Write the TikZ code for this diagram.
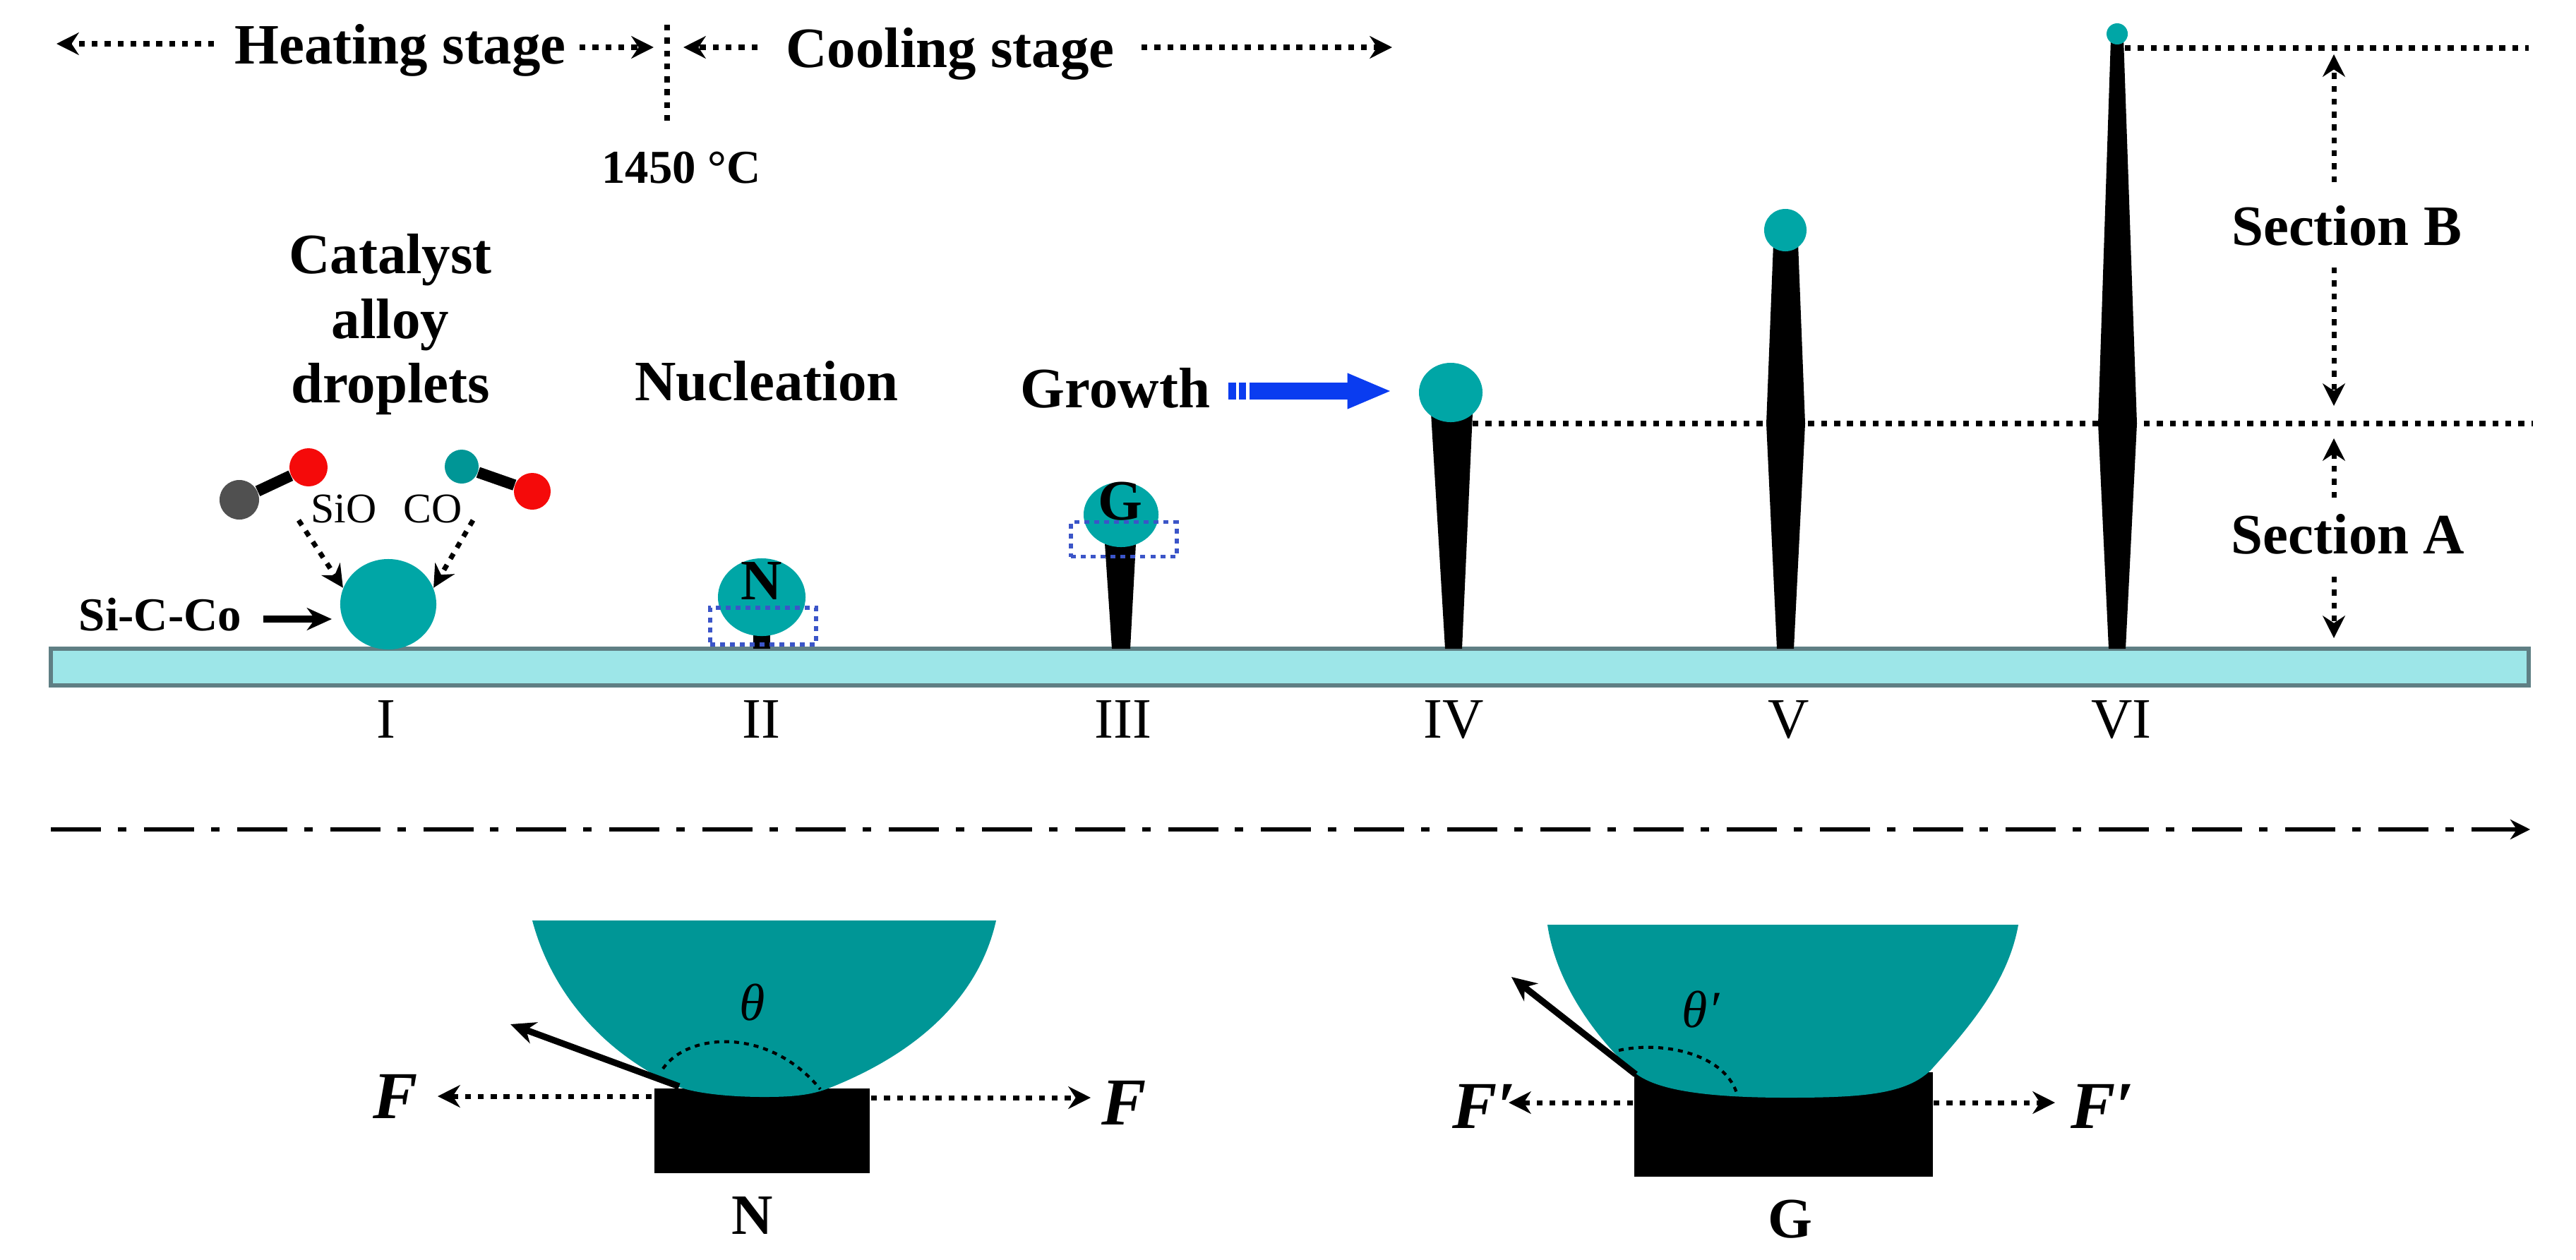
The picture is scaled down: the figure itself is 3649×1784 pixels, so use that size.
\documentclass[tikz,border=0pt]{standalone}
\usepackage{fontspec}
\setmainfont{Liberation Serif}
\usetikzlibrary{arrows.meta}
\usetikzlibrary{shapes.geometric}
\definecolor{dropteal}{HTML}{00A6A6}
\definecolor{cupteal}{HTML}{009696}
\definecolor{basecyan}{HTML}{9DE6E8}
\definecolor{baseedge}{HTML}{5F7F84}
\definecolor{atomgray}{HTML}{505050}
\definecolor{atomred}{HTML}{F50A0A}
\definecolor{boxblue}{HTML}{3B55C8}
\definecolor{growblue}{HTML}{0A3CF0}
\begin{document}
\begin{tikzpicture}[x=0.01cm,y=-0.01cm,text depth=0pt]
\tikzstyle{every node}=[inner sep=0pt]
\tikzstyle{biglabel}=[font=\fontsize{23}{26}\selectfont\bfseries,align=center]
\tikzstyle{smalllabel}=[font=\fontsize{17}{20}\selectfont]
\tikzstyle{midlabel}=[font=\fontsize{19}{22}\selectfont\bfseries]
\tikzstyle{romanlabel}=[font=\fontsize{23}{26}\selectfont]
\tikzstyle{forcelabel}=[font=\fontsize{27}{30}\selectfont\bfseries\itshape]
\tikzstyle{anglelabel}=[font=\fontsize{21}{24}\selectfont\itshape]
\tikzstyle{droplet}=[ellipse,fill=dropteal]
\tikzstyle{atom}=[circle]
\tikzstyle{bond}=[line width=4.5pt,black]
\tikzstyle{wire}=[fill=black]
\tikzstyle{block}=[rectangle,fill=black]
\tikzstyle{cup}=[fill=cupteal]
\tikzstyle{zoombox}=[rectangle,draw=boxblue,line width=1.6pt,dash pattern=on 2pt off 2pt]
\tikzstyle{dotline}=[line width=2pt,dash pattern=on 2.4pt off 2.8pt]
\tikzstyle{dotarrow}=[dotline,-{Stealth[length=9pt,width=9pt]}]
\tikzstyle{anglearc}=[line width=1.2pt,dash pattern=on 2pt off 2pt]
\tikzstyle{solidarrow}=[line width=2.6pt,-{Stealth[length=10pt,width=9pt]}]
\useasboundingbox (0,0) rectangle (3649,1784);

\node[biglabel] (heat) at (567,62) {Heating stage};
\node[biglabel] (cool) at (1346,67) {Cooling stage};
\node[midlabel] (melt) at (965,237) {1450 °C};
\coordinate (heatout) at (303,62);
\coordinate (heatend) at (80,62);
\coordinate (heatin) at (821,67);
\coordinate (melttop) at (945,35);
\coordinate (meltbot) at (945,175);
\coordinate (heatstop) at (926,67);
\coordinate (coolin) at (1073,67);
\coordinate (coolstop) at (968,67);
\coordinate (coolout) at (1617,67);
\coordinate (coolend) at (1972,67);
\draw[dotarrow] (heatout) -- (heatend);
\draw[dotarrow] (heatin) -- (heatstop);
\draw[dotline] (melttop) -- (meltbot);
\draw[dotarrow] (coolin) -- (coolstop);
\draw[dotarrow] (coolout) -- (coolend);

\node[biglabel] (catalyst) at (553,451) {Catalyst\\alloy\\droplets};
\node[biglabel] (nucleation) at (1086,539) {Nucleation};
\node[biglabel] (growth) at (1580,549) {Growth};

\draw[fill=basecyan,draw=baseedge,line width=1.6pt] (72,919) rectangle (3582,971);

\fill[wire] (1067,900) -- (1091,900) -- (1091,919) -- (1067,919) -- cycle;
\fill[wire] (1565,770) -- (1609,770) -- (1601,919) -- (1575,919) -- cycle;
\fill[wire] (2027,585) -- (2086,585) -- (2071,919) -- (2047,919) -- cycle;
\fill[wire] (2512,345) -- (2547,345) -- (2557,600) -- (2541,919) -- (2517,919) -- (2502,600) -- cycle;
\fill[wire] (2990,55) -- (3008,55) -- (3027,600) -- (3011,919) -- (2987,919) -- (2972,600) -- cycle;

\node[droplet,minimum width=1.36cm,minimum height=1.28cm] (dropI) at (550,856) {};
\node[droplet,minimum width=1.24cm,minimum height=1.1cm] (dropII) at (1079,846) {};
\node[droplet,minimum width=1.06cm,minimum height=0.92cm] (dropIII) at (1588,729) {};
\node[droplet,minimum width=0.9cm,minimum height=0.84cm] (dropIV) at (2055,556) {};
\node[droplet,minimum width=0.6cm,minimum height=0.6cm] (dropV) at (2529,326) {};
\node[droplet,minimum width=0.3cm,minimum height=0.3cm] (dropVI) at (2999,48) {};
\node[biglabel] (letterN) at (1079,823) {N};
\node[biglabel] (letterG) at (1587,710) {G};
\node[zoombox,minimum width=1.5cm,minimum height=0.52cm] (boxN) at (1081,887) {};
\node[zoombox,minimum width=1.5cm,minimum height=0.49cm] (boxG) at (1592,764) {};

\node[atom,fill=atomgray,minimum width=0.56cm] (sioC) at (339,708) {};
\node[atom,fill=atomred,minimum width=0.54cm] (sioO) at (437,662) {};
\node[atom,fill=cupteal,minimum width=0.48cm] (coC) at (654,661) {};
\node[atom,fill=atomred,minimum width=0.52cm] (coO) at (754,696) {};
\draw[bond] (sioC) -- (sioO);
\draw[bond] (coC) -- (coO);
\node[smalllabel] (siolabel) at (487,721) {SiO};
\node[smalllabel] (colabel) at (613,721) {CO};
\coordinate (sioarrow) at (423,737);
\coordinate (coarrow) at (670,737);
\draw[dotarrow] (sioarrow) -- (dropI.160);
\draw[dotarrow] (coarrow) -- (dropI.20);
\node[midlabel] (sicco) at (227,870) {Si-C-Co};
\coordinate (siccostart) at (373,877);
\coordinate (siccoend) at (470,877);
\draw[solidarrow] (siccostart) -- (siccoend);

\coordinate (growstart) at (1740,554);
\coordinate (growend) at (1972,554);
\draw[growblue,line width=7pt,dash pattern=on 3pt off 1.2pt on 3pt off 1.2pt on 200pt,-{Triangle[length=18pt,width=13pt]}] (growstart) -- (growend);

\node[romanlabel] (stageI) at (547,1019) {I};
\node[romanlabel] (stageII) at (1078,1019) {II};
\node[romanlabel] (stageIII) at (1591,1019) {III};
\node[romanlabel] (stageIV) at (2059,1019) {IV};
\node[romanlabel] (stageV) at (2534,1019) {V};
\node[romanlabel] (stageVI) at (3005,1019) {VI};

\coordinate (topline) at (3010,68);
\coordinate (topend) at (3582,68);
\coordinate (midline) at (2086,600);
\coordinate (midend) at (3588,600);
\draw[dotline] (topline) -- (topend);
\draw[dotline] (midline) -- (midend);
\node[biglabel] (sectionB) at (3324,319) {Section B};
\node[biglabel] (sectionA) at (3326,756) {Section A};
\coordinate (bup) at (3306,258);
\coordinate (buptip) at (3306,77);
\coordinate (bdown) at (3306,379);
\coordinate (bdowntip) at (3306,575);
\coordinate (aup) at (3306,705);
\coordinate (auptip) at (3306,621);
\coordinate (adown) at (3306,817);
\coordinate (adowntip) at (3306,904);
\draw[dotarrow] (bup) -- (buptip);
\draw[dotarrow] (bdown) -- (bdowntip);
\draw[dotarrow] (aup) -- (auptip);
\draw[dotarrow] (adown) -- (adowntip);

\coordinate (axisstart) at (72,1175);
\coordinate (axisend) at (3584,1175);
\draw[line width=1.6pt,dash pattern=on 20.2pt off 6.8pt on 3.4pt off 7.1pt,-{Stealth[length=8pt,width=8pt]}] (axisstart) -- (axisend);

\node[block,minimum width=3.05cm,minimum height=1.2cm] (blockN) at (1079.5,1602) {};
\fill[cup] (754,1304) -- (1411,1304) .. controls (1385,1420) and (1290,1495) .. (1178,1540) .. controls (1150,1552) and (1120,1554) .. (1082,1554) .. controls (1040,1554) and (990,1550) .. (962,1540) .. controls (870,1500) and (785,1420) .. cycle;
\draw[anglearc] (939,1514) .. controls (975,1462) and (1090,1455) .. (1162,1543);
\node[anglelabel] (theta) at (1066,1420) {θ};
\coordinate (pullN) at (962,1539);
\coordinate (pullNtip) at (723,1451);
\draw[solidarrow] (pullN) -- (pullNtip);
\node[forcelabel] (FNl) at (560,1553) {F};
\node[forcelabel] (FNr) at (1592,1562) {F};
\coordinate (fnlstart) at (923,1553);
\coordinate (fnlend) at (620,1553);
\coordinate (fnrstart) at (1234,1555);
\coordinate (fnrend) at (1545,1555);
\draw[dotarrow] (fnlstart) -- (fnlend);
\draw[dotarrow] (fnrstart) -- (fnrend);
\node[biglabel] (nameN) at (1066,1722) {N};

\node[block,minimum width=4.23cm,minimum height=1.48cm] (blockG) at (2526.5,1593) {};
\fill[cup] (2192,1310) -- (2859,1310) .. controls (2845,1390) and (2790,1455) .. (2735,1516) .. controls (2700,1550) and (2640,1555) .. (2532,1555) .. controls (2420,1555) and (2345,1545) .. (2315,1519) .. controls (2270,1480) and (2205,1400) .. cycle;
\draw[anglearc] (2293,1488) .. controls (2350,1475) and (2440,1490) .. (2460,1548);
\node[anglelabel] (thetaG) at (2409,1430) {θ′};
\coordinate (pullG) at (2317,1522);
\coordinate (pullGtip) at (2141,1384);
\draw[solidarrow] (pullG) -- (pullGtip);
\node[forcelabel] (FGl) at (2102,1567) {F′};
\node[forcelabel] (FGr) at (2978,1567) {F′};
\coordinate (fglstart) at (2313,1562);
\coordinate (fglend) at (2137,1562);
\coordinate (fgrstart) at (2739,1562);
\coordinate (fgrend) at (2911,1562);
\draw[dotarrow] (fglstart) -- (fglend);
\draw[dotarrow] (fgrstart) -- (fgrend);
\node[biglabel] (nameG) at (2536,1727) {G};
\end{tikzpicture}
\end{document}
